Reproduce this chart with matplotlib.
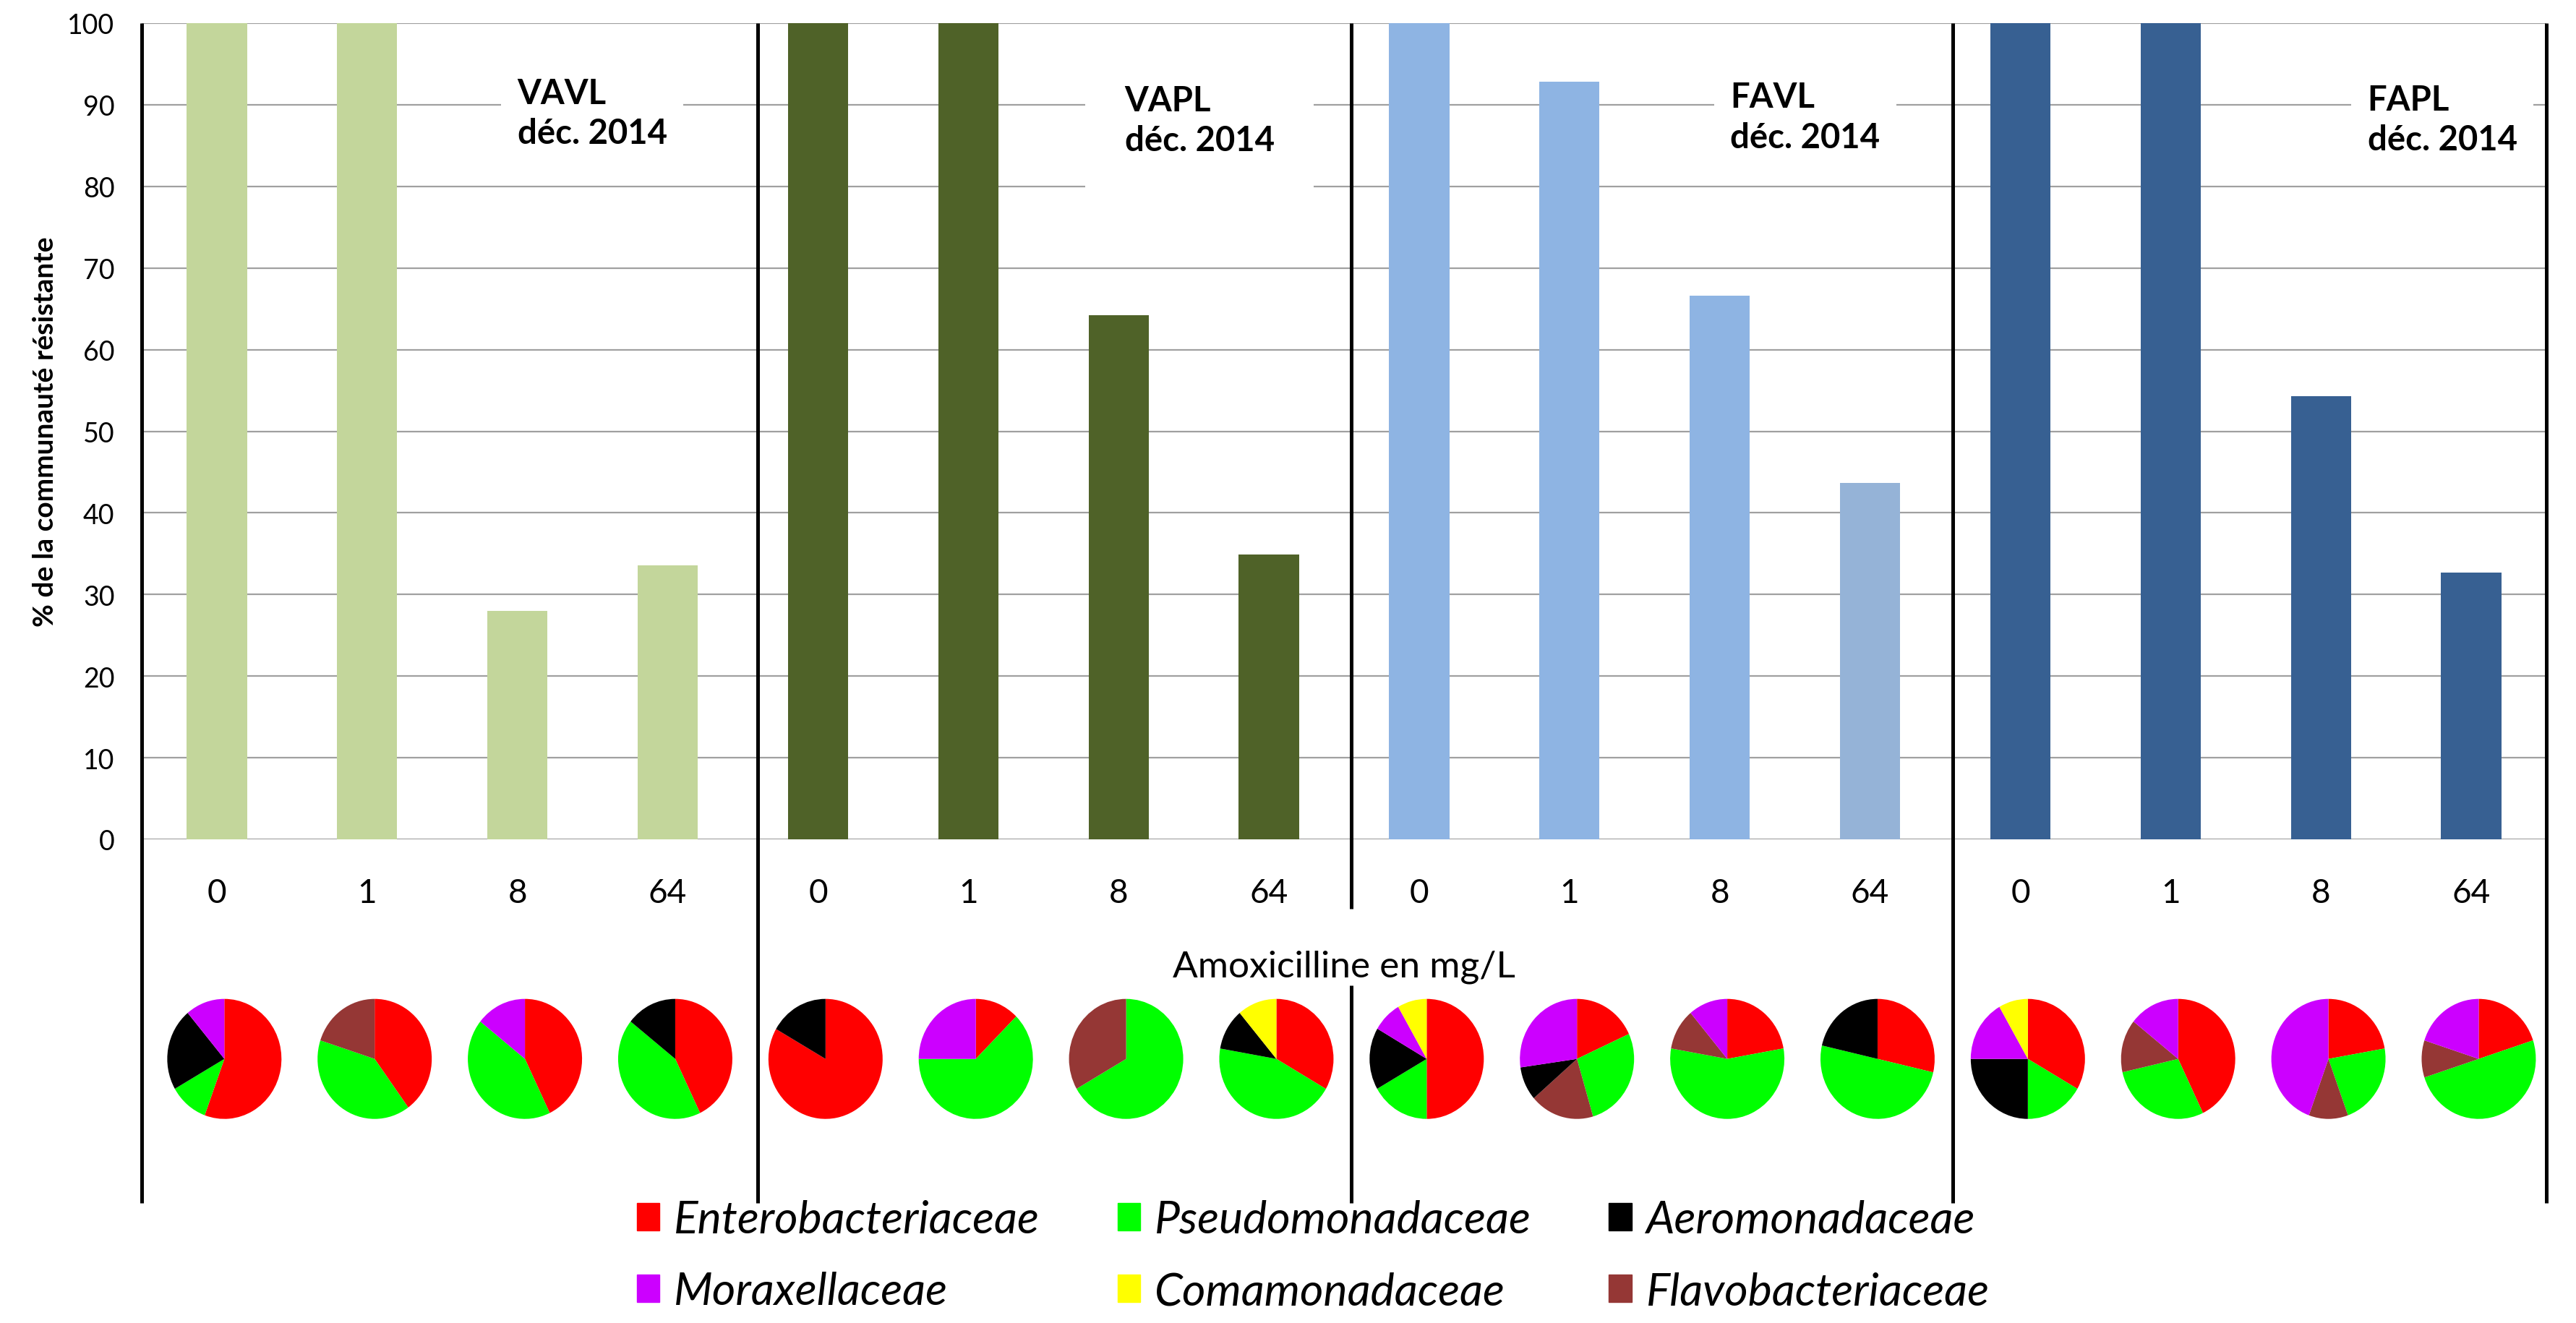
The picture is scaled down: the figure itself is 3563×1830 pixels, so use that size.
import numpy as np
import matplotlib.pyplot as plt
from matplotlib.patches import Patch

plt.rcParams['font.family'] = ['Lato', 'DejaVu Sans']

sites = ['VAVL', 'VAPL', 'FAVL', 'FAPL']
doses = ['0', '1', '8', '64']

# % de la communauté résistante pour chaque dose d'amoxicilline
vavl = [100, 100, 28.0, 33.6]
vapl = [100, 100, 64.2, 34.9]
favl = [100, 92.8, 66.6, 43.7]
fapl = [100, 100, 54.3, 32.7]

# composition des isolats résistants (%), une valeur par camembert
families = ['Enterobacteriaceae', 'Pseudomonadaceae', 'Flavobacteriaceae',
            'Aeromonadaceae', 'Moraxellaceae', 'Comamonadaceae']
entero = [55.6, 40.0, 42.9, 42.9, 83.3, 12.5, 0, 33.3, 50.0, 18.2, 22.2, 28.6, 33.3, 42.9, 22.2, 20.0]
pseudo = [11.1, 40.0, 42.9, 42.9, 0, 62.5, 66.7, 44.4, 16.7, 27.3, 55.6, 50.0, 16.7, 28.6, 22.2, 50.0]
flavo = [0, 20.0, 0, 0, 0, 0, 33.3, 0, 0, 18.2, 11.1, 0, 0, 14.3, 11.1, 10.0]
aero = [22.2, 0, 0, 14.3, 16.7, 0, 0, 11.1, 16.7, 9.1, 0, 21.4, 25.0, 0, 0, 0]
morax = [11.1, 0, 14.3, 0, 0, 25.0, 0, 0, 8.3, 27.3, 11.1, 0, 16.7, 14.3, 44.4, 20.0]
comamon = [0, 0, 0, 0, 0, 0, 0, 11.1, 8.3, 0, 0, 0, 8.3, 0, 0, 0]

fam_colors = ['#FF0000', '#00FF00', '#953735', '#000000', '#CC00FF', '#FFFF00']
bar_colors = ['#C3D69B'] * 4 + ['#4F6228'] * 4 + ['#8EB4E3'] * 3 + ['#95B3D7'] + ['#376092'] * 4

W, H = 3563, 1831
fig = plt.figure(figsize=(W / 100, H / 100), dpi=100)
ax = fig.add_axes([196 / W, 1 - 1162 / H, (3522 - 196) / W, (1162 - 33) / H])

x = np.arange(16)
values = vavl + vapl + favl + fapl
ax.bar(x, values, width=0.4, color=bar_colors, zorder=2)
ax.set_xlim(-0.5, 15.5)
ax.set_ylim(0, 100)
ax.set_yticks(range(0, 101, 10))
ax.yaxis.grid(True, color='#A0A0A0', linewidth=1.6)
ax.set_axisbelow(True)
for s in ax.spines.values():
    s.set_visible(False)
ax.tick_params(axis='y', length=0, pad=27, labelsize=27)
ax.set_xticks(x, doses * 4)
ax.tick_params(axis='x', length=0, pad=38, labelsize=33)

ax.set_ylabel('% de la communauté résistante', fontsize=28, fontweight='bold')
ax.yaxis.set_label_coords(-0.035, 0.5)
ax.set_xlabel('Amoxicilline en mg/L', fontsize=37)
ax.xaxis.set_label_coords(0.5, -0.135)

# traits verticaux séparant les sites (prolongés sous l'axe)
xt = ax.get_xaxis_transform()
line_kw = dict(transform=xt, color='black', lw=3.6, clip_on=False, solid_capstyle='butt')
for xs in [-0.5, 3.6, 11.55, 15.5]:
    ax.plot([xs, xs], [1, -0.4455], **line_kw)
ax.plot([7.55, 7.55], [1, -0.085], **line_kw)
ax.plot([7.55, 7.55], [-0.179, -0.4455], **line_kw)

# étiquettes des sites
label_pos = [(2.0, 93.4, 22), (6.04, 92.5, 55), (10.07, 92.9, 22), (14.31, 92.6, 22)]
for site, (lx, ly, pad) in zip(sites, label_pos):
    ax.text(lx, ly, site + '\ndéc. 2014', fontsize=34, fontweight='bold',
            ha='left', va='top', linespacing=1.32, zorder=3,
            bbox=dict(facecolor='white', edgecolor='none', pad=pad * 0.72))

# camemberts sous chaque barre
shares = [entero, pseudo, flavo, aero, morax, comamon]
pie_w, pie_h, pie_y = 158 / 207.9, 166 / 1129, -0.269
for i in range(16):
    pax = ax.inset_axes([i + 0.05 - pie_w / 2, pie_y - pie_h / 2, pie_w, pie_h], transform=xt)
    pax.pie([f[i] for f in shares], colors=fam_colors, startangle=90, counterclock=False,
            wedgeprops=dict(linewidth=0))
    pax.set_aspect('auto')
    pax.set_xlim(-1, 1)
    pax.set_ylim(-1, 1)

# légende sur deux lignes
order = [0, 4, 1, 5, 3, 2]
handles = [Patch(color=fam_colors[k], label=families[k]) for k in order]
fig.legend(handles=handles, ncol=3, loc='upper left', bbox_to_anchor=(881 / W, 1 - 1660 / H),
           frameon=False, prop={'style': 'italic', 'size': 45}, handlelength=0.5,
           handleheight=0.56, handletextpad=0.32, columnspacing=1.72, labelspacing=0.68,
           borderpad=0, borderaxespad=0)

fig.savefig('out.png', dpi=100)
